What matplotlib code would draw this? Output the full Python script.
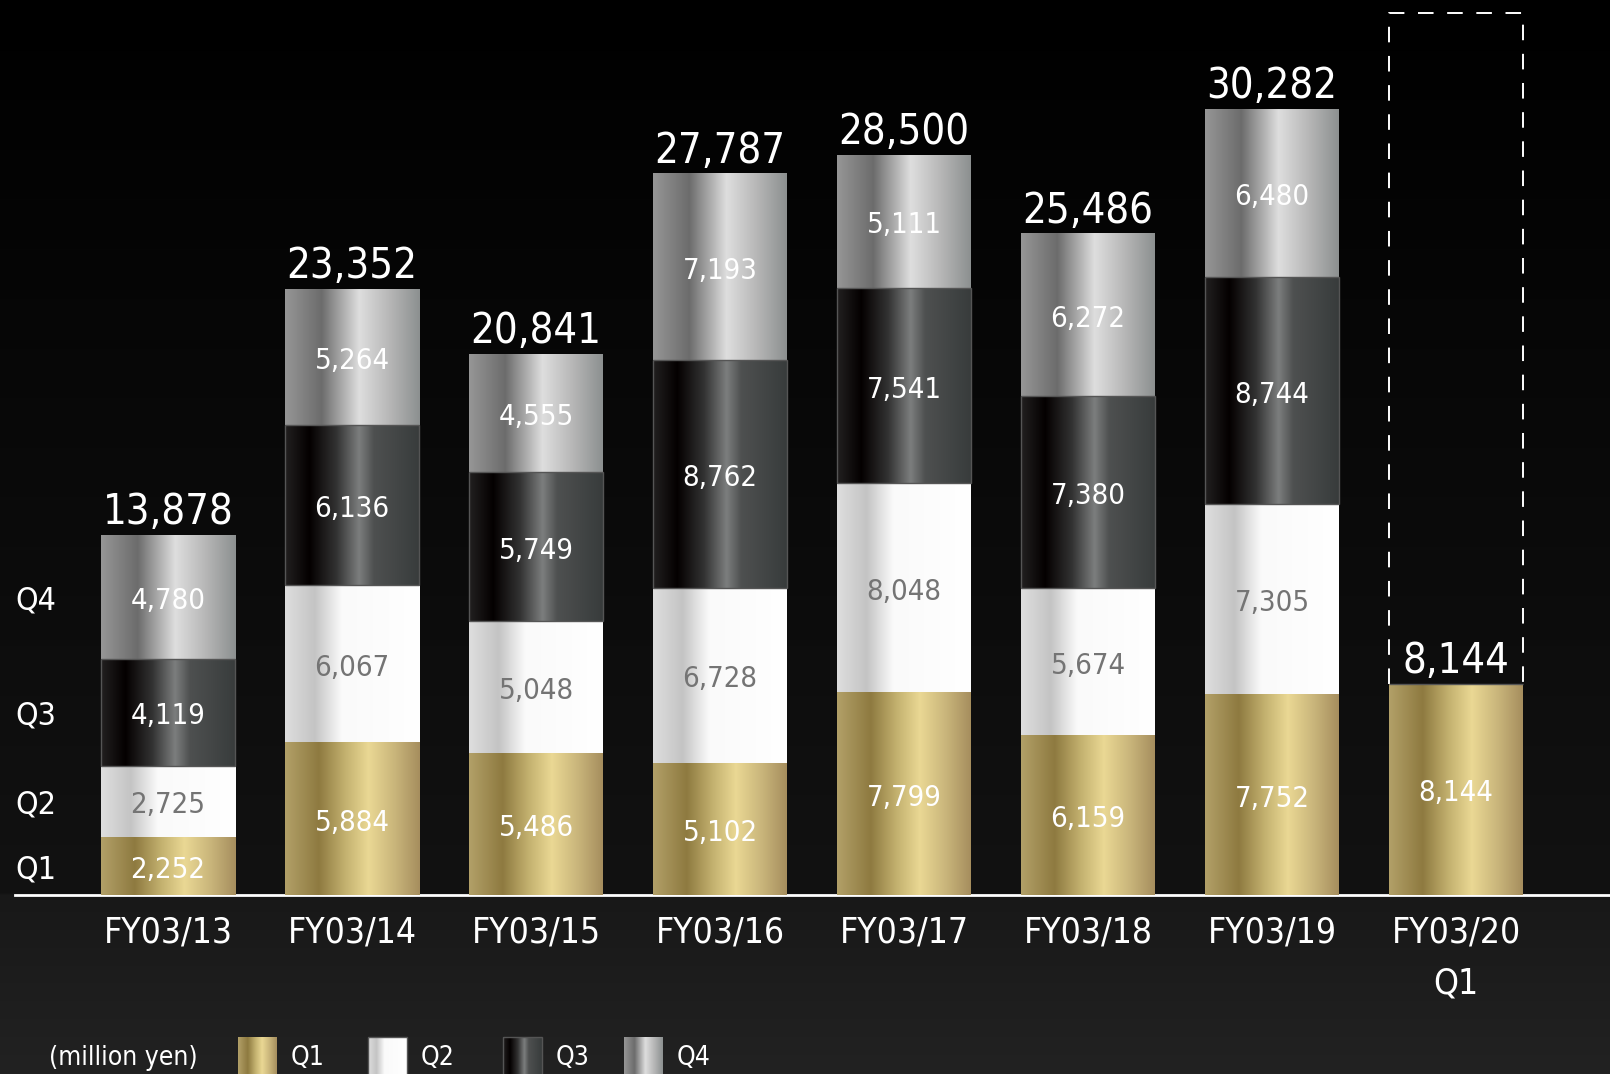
import numpy as np
import matplotlib
matplotlib.use("Agg")
import matplotlib.pyplot as plt
from matplotlib.patches import Rectangle
from matplotlib.transforms import blended_transform_factory

# ---------------- data ----------------
categories = ["FY03/13", "FY03/14", "FY03/15", "FY03/16", "FY03/17", "FY03/18", "FY03/19", "FY03/20\nQ1"]
q1 = [2252, 5884, 5486, 5102, 7799, 6159, 7752, 8144]
q2 = [2725, 6067, 5048, 6728, 8048, 5674, 7305, 0]
q3 = [4119, 6136, 5749, 8762, 7541, 7380, 8744, 0]
q4 = [4780, 5264, 4555, 7193, 5111, 6272, 6480, 0]
totals = [13878, 23352, 20841, 27787, 28500, 25486, 30282, 8144]
series_names = ["Q1", "Q2", "Q3", "Q4"]
unit_label = "(million yen)"
forecast_box_value = 33960

FONT = dict(family="DejaVu Sans", fontstretch="condensed")

# horizontal gradient stops (position, rgb)
grad_stops = {
    "Q1": [(0.0, (178, 160, 104)), (0.25, (142, 122, 64)), (0.45, (196, 178, 112)),
           (0.62, (234, 216, 148)), (0.82, (200, 180, 122)), (1.0, (166, 142, 94))],
    "Q2": [(0.0, (222, 222, 222)), (0.22, (196, 196, 196)), (0.42, (250, 250, 250)),
           (1.0, (255, 255, 255))],
    "Q3": [(0.0, (34, 32, 32)), (0.18, (4, 0, 0)), (0.38, (50, 50, 50)),
           (0.55, (124, 126, 126)), (0.66, (78, 80, 80)), (1.0, (56, 60, 60))],
    "Q4": [(0.0, (150, 150, 150)), (0.27, (108, 108, 108)), (0.55, (222, 222, 222)),
           (0.78, (182, 182, 182)), (1.0, (140, 144, 144))],
}
label_colors = {"Q1": "white", "Q2": "#747474", "Q3": "white", "Q4": "white"}


def gradient(name, n=256):
    stops = grad_stops[name]
    pos = [s[0] for s in stops]
    t = np.linspace(0, 1, n)
    rgb = np.stack([np.interp(t, pos, [s[1][c] for s in stops]) for c in range(3)], axis=-1) / 255.0
    return rgb[np.newaxis, :, :]


W, H = 1610, 1074
fig = plt.figure(figsize=(W / 100, H / 100), dpi=100)
fig.patch.set_facecolor("black")

# background gradient
bg = fig.add_axes([0, 0, 1, 1], zorder=-5)
bg.set_axis_off()
ys = np.linspace(0, 1, 400)  # 0 = top
axis_frac = 895 / H
col = np.where(ys < axis_frac, 0 + 18 * (ys / axis_frac), 24 + 10 * ((ys - axis_frac) / (1 - axis_frac)))
bgimg = np.repeat((col / 255.0)[:, None], 3, axis=1)[:, None, :]
bg.imshow(bgimg, extent=[0, 1, 0, 1], aspect="auto")
bg.set_xlim(0, 1)
bg.set_ylim(0, 1)

# main axes: bottom edge = baseline of bars
ax = fig.add_axes([0, (H - 895) / H, 1, 895 / H])
ax.patch.set_alpha(0)
x = np.arange(len(categories))
bw = 134 / 184
ax.set_xlim(-168 / 184, (W - 168) / 184)
ax.set_ylim(0, 895 / 0.02597)

series = [q1, q2, q3, q4]
bottom = np.zeros(len(categories))
for name, vals in zip(series_names, series):
    vals = np.array(vals, dtype=float)
    bars = ax.bar(x, vals, bw, bottom=bottom, facecolor="none",
                  edgecolor="#555555" if name == "Q3" else "none",
                  linewidth=1.0, zorder=4)
    g = gradient(name)
    for i, p in enumerate(bars.patches):
        if vals[i] <= 0:
            continue
        x0, y0 = p.get_x(), p.get_y()
        im = ax.imshow(g, extent=[x0, x0 + p.get_width(), y0, y0 + p.get_height()],
                       aspect="auto", zorder=3, interpolation="bilinear")
        im.set_clip_path(p)
        ax.annotate(f"{int(vals[i]):,}", (x[i], y0 + vals[i] / 2), xytext=(0, -3),
                    textcoords="offset points", ha="center", va="center",
                    color=label_colors[name], fontsize=21, zorder=6, **FONT)
    bottom = bottom + vals

# totals
for i, t in enumerate(totals):
    ax.annotate(f"{t:,}", (x[i], bottom[i]), xytext=(0, 1), textcoords="offset points",
                ha="center", va="bottom", color="white", fontsize=30, zorder=6, **FONT)

# dashed forecast frame on last category (sides + top, starting at bar top)
last = len(categories) - 1
fx0, fx1 = x[last] - bw / 2, x[last] + bw / 2
ax.plot([fx0, fx0, fx1, fx1], [totals[last], forecast_box_value, forecast_box_value, totals[last]],
        color="white", linewidth=1.4, linestyle=(0, (8, 7)), zorder=2, solid_joinstyle="miter")

# left Q labels aligned with segments of the first bar
trans = blended_transform_factory(ax.transAxes, ax.transData)
cum = 0
for name, vals in zip(series_names, series):
    ax.annotate(name, (15 / W, cum + vals[0] / 2), xycoords=trans, xytext=(0, -3),
                textcoords="offset points", ha="left", va="center",
                color="white", fontsize=23, **FONT)
    cum += vals[0]

# axes styling
for s in ["top", "left", "right"]:
    ax.spines[s].set_visible(False)
ax.spines["bottom"].set_color("white")
ax.spines["bottom"].set_linewidth(2)
ax.spines["bottom"].set_bounds(-168 / 184 + 15 / 184, (W - 168) / 184)
ax.set_yticks([])
ax.set_xticks(x)
ax.set_xticklabels(categories, color="white", fontsize=25.5, linespacing=1.6, **FONT)
ax.tick_params(axis="x", length=0, pad=15)

# legend (manual)
fig.text(49 / W, 1 - 1058 / H, unit_label, ha="left", va="center", color="white", fontsize=19, **FONT)
lg = fig.add_axes([0, 0, 1, 1], zorder=5)
lg.set_axis_off()
lg.set_xlim(0, W)
lg.set_ylim(H, 0)
sw_x = [238, 368, 503, 624]
sw_w = 39
for name, sx in zip(series_names, sw_x):
    r = Rectangle((sx, 1037), sw_w, 40, facecolor="none",
                  edgecolor="#555555" if name in ("Q3", "Q2") else "none", linewidth=1)
    lg.add_patch(r)
    im = lg.imshow(gradient(name), extent=[sx, sx + sw_w, 1077, 1037], aspect="auto", interpolation="bilinear")
    im.set_clip_path(r)
    lg.text(sx + sw_w + 14, 1058, name, ha="left", va="center", color="white", fontsize=19, **FONT)
lg.set_xlim(0, W)
lg.set_ylim(H, 0)

fig.savefig("out.png", dpi=100, facecolor=fig.get_facecolor())
